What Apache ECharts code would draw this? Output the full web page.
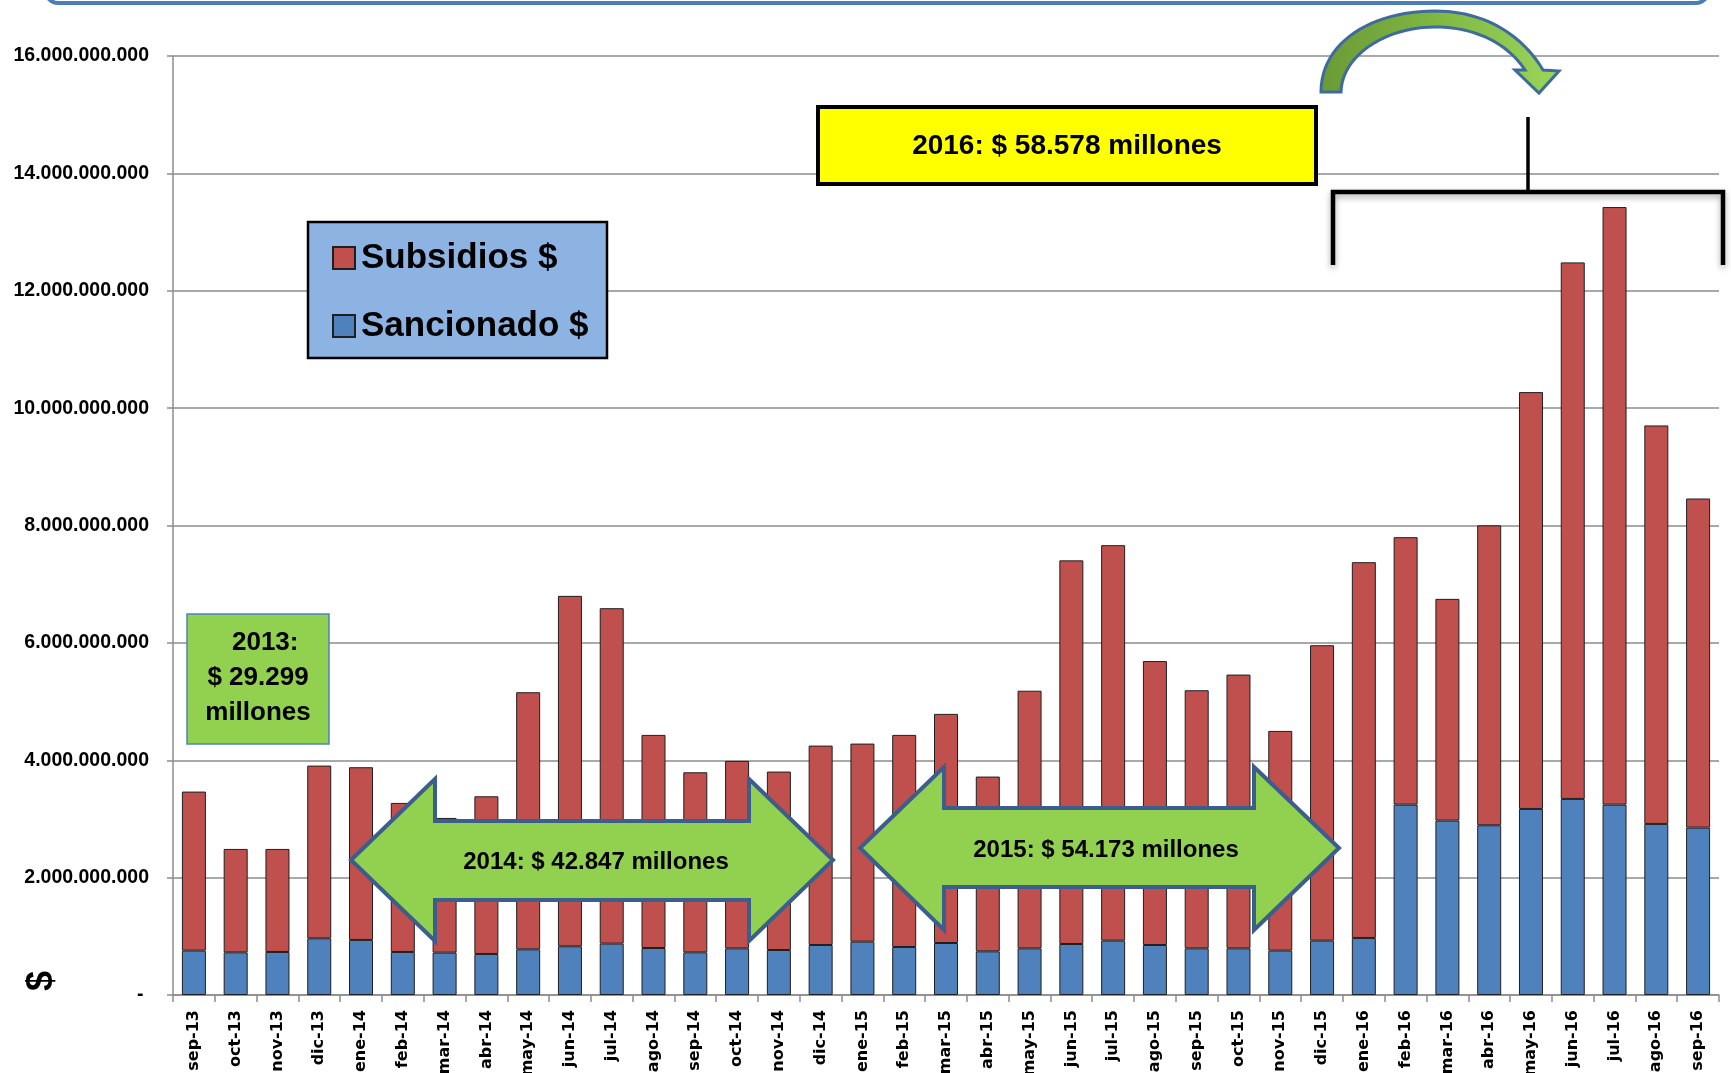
<!DOCTYPE html>
<html>
<head>
<meta charset="utf-8">
<script src="https://cdn.jsdelivr.net/npm/echarts@6/dist/echarts.min.js"></script>
<style>
html,body{margin:0;padding:0;background:#fff;}
#chart{width:1731px;height:1073px;}
</style>
</head>
<body>
<div id="chart"></div>
<script>
const categories = ['sep-13','oct-13','nov-13','dic-13','ene-14','feb-14','mar-14','abr-14','may-14','jun-14','jul-14','ago-14','sep-14','oct-14','nov-14','dic-14','ene-15','feb-15','mar-15','abr-15','may-15','jun-15','jul-15','ago-15','sep-15','oct-15','nov-15','dic-15','ene-16','feb-16','mar-16','abr-16','may-16','jun-16','jul-16','ago-16','sep-16'];

const sancionado = [756000000,727000000,733000000,966000000,938000000,733000000,722000000,699000000,778000000,830000000,875000000,801000000,727000000,795000000,767000000,852000000,909000000,818000000,886000000,744000000,795000000,869000000,926000000,852000000,795000000,795000000,756000000,926000000,972000000,3244000000,2972000000,2892000000,3170000000,3341000000,3244000000,2915000000,2852000000];

const subsidios = [2710000000,1762000000,1756000000,2943000000,2943000000,2540000000,2295000000,2687000000,4381000000,5971000000,5716000000,3631000000,3068000000,3194000000,3040000000,3398000000,3375000000,3614000000,3904000000,2978000000,4390000000,6537000000,6739000000,4838000000,4398000000,4665000000,3744000000,5034000000,6403000000,4557000000,3778000000,5111000000,7103000000,9142000000,10182000000,6790000000,5608000000];

const seriesNames = ['Subsidios $','Sancionado $'];
const yAxisName = '$';
const annotation2013 = ['  2013:', '$ 29.299', 'millones'];
const annotation2014 = '2014: $ 42.847 millones';
const annotation2015 = '2015: $ 54.173 millones';
const annotation2016 = '2016: $ 58.578 millones';

// sample a cubic bezier (decorative curved arrow outline)
function cubic(p0, p1, p2, p3, n) {
  const pts = [];
  for (let i = 0; i <= n; i++) {
    const t = i / n, u = 1 - t;
    pts.push([
      u*u*u*p0[0] + 3*u*u*t*p1[0] + 3*u*t*t*p2[0] + t*t*t*p3[0],
      u*u*u*p0[1] + 3*u*u*t*p1[1] + 3*u*t*t*p2[1] + t*t*t*p3[1]
    ]);
  }
  return pts;
}
const curvedArrow = [].concat(
  cubic([1321,92],[1321,42],[1372,11],[1435,11], 24),
  cubic([1435,11],[1488,11],[1524,38],[1543,70], 24),
  [[1559,71],[1539,93],[1515,70],[1525,70]],
  cubic([1525,70],[1508,44],[1476,27],[1435,27], 24),
  cubic([1435,27],[1386,27],[1342,55],[1341,92], 24)
);

const chart = echarts.init(document.getElementById('chart'));
const GREEN = '#92D050';
const ARROW_STROKE = '#3B5E8C';
const font = '"Liberation Sans", Arial, sans-serif';

const option = {
  animation: false,
  backgroundColor: '#ffffff',
  grid: {left: 173, right: 12, top: 56, bottom: 78, containLabel: false, outerBoundsMode: 'none'},
  legend: {
    data: seriesNames,
    orient: 'vertical',
    left: 327,
    top: 233,
    itemWidth: 22,
    itemHeight: 22,
    itemGap: 28,
    icon: 'rect',
    z: 10,
    textStyle: {fontFamily: font, fontWeight: 'bold', fontSize: 35, color: '#000', lineHeight: 40, padding: [0,0,0,1]}
  },
  xAxis: {
    type: 'category',
    data: categories,
    axisLine: {lineStyle: {color: '#8c8c8c', width: 1.5}},
    axisTick: {show: true, length: 7, lineStyle: {color: '#8c8c8c', width: 1.5}},
    axisLabel: {interval: 0, rotate: 90, margin: 15, color: '#000', fontFamily: '"DejaVu Sans", Verdana, sans-serif', fontWeight: 'bold', fontSize: 16}
  },
  yAxis: {
    type: 'value',
    min: 0,
    max: 16000000000,
    interval: 2000000000,
    axisLine: {show: true, lineStyle: {color: '#8c8c8c', width: 1.5}},
    axisTick: {show: true, length: 6, lineStyle: {color: '#8c8c8c', width: 1.5}},
    splitLine: {lineStyle: {color: '#8c8c8c', width: 1.5}},
    axisLabel: {
      margin: 24,
      color: '#000',
      fontFamily: font,
      fontWeight: 'bold',
      fontSize: 19.5,
      formatter: function (v) {
        if (v === 0) return '- ';
        return String(v).replace(/\B(?=(\d{3})+(?!\d))/g, '.');
      }
    }
  },
  series: [
    {
      name: seriesNames[1], type: 'bar', stack: 'total', data: sancionado, barWidth: 24,
      itemStyle: {color: '#4F81BD', borderColor: '#1f1f1f', borderWidth: 1}
    },
    {
      name: seriesNames[0], type: 'bar', stack: 'total', data: subsidios, barWidth: 24,
      itemStyle: {color: '#C0504D', borderColor: '#1f1f1f', borderWidth: 1}
    }
  ],
  graphic: {
    elements: [
      {type: 'rect', z: 5, shape: {x: 46, y: -40, width: 1662, height: 43, r: 12},
       style: {fill: 'none', stroke: '#4A7EBB', lineWidth: 4}},
      {type: 'rect', z: 5, shape: {x: 308, y: 222, width: 299, height: 136},
       style: {fill: '#8DB3E2', stroke: '#000', lineWidth: 2.5}},
      {type: 'rect', z: 5, shape: {x: 187, y: 614, width: 142, height: 130},
       style: {fill: GREEN, stroke: '#4F81BD', lineWidth: 1.5}},
      {type: 'text', z: 6, x: 258, y: 678,
       style: {text: annotation2013.join('\n'), font: 'bold 26px ' + font, fill: '#000', align: 'center', verticalAlign: 'middle', lineHeight: 35}},
      {type: 'polygon', z: 5,
       shape: {points: [[351,860],[435,779],[435,821],[749,821],[749,779],[833,860],[749,941],[749,900],[435,900],[435,941]]},
       style: {fill: GREEN, stroke: ARROW_STROKE, lineWidth: 4, lineJoin: 'miter'}},
      {type: 'text', z: 6, x: 596, y: 862,
       style: {text: annotation2014, font: 'bold 24px ' + font, fill: '#000', align: 'center', verticalAlign: 'middle'}},
      {type: 'polygon', z: 5,
       shape: {points: [[860,848],[944,767],[944,808],[1254,808],[1254,767],[1339,848],[1254,930],[1254,887],[944,887],[944,930]]},
       style: {fill: GREEN, stroke: ARROW_STROKE, lineWidth: 4, lineJoin: 'miter'}},
      {type: 'text', z: 6, x: 1106, y: 850,
       style: {text: annotation2015, font: 'bold 24px ' + font, fill: '#000', align: 'center', verticalAlign: 'middle'}},
      {type: 'rect', z: 5, shape: {x: 818, y: 107, width: 498, height: 77},
       style: {fill: '#FFFF00', stroke: '#000', lineWidth: 4}},
      {type: 'text', z: 6, x: 1067, y: 146,
       style: {text: annotation2016, font: 'bold 28px ' + font, fill: '#000', align: 'center', verticalAlign: 'middle'}},
      {type: 'polyline', z: 5, shape: {points: [[1333,265],[1333,192],[1723,192],[1723,265]]},
       style: {fill: 'none', stroke: '#000', lineWidth: 4.5, shadowBlur: 6, shadowColor: 'rgba(0,0,0,0.35)', shadowOffsetY: 3}},
      {type: 'line', z: 5, shape: {x1: 1528, y1: 117, x2: 1528, y2: 192},
       style: {stroke: '#000', lineWidth: 3.5}},
      {type: 'polygon', z: 5,
       shape: {points: curvedArrow},
       style: {
         fill: {type: 'linear', x: 0, y: 0, x2: 1, y2: 0, colorStops: [{offset: 0, color: '#6A9A35'}, {offset: 0.5, color: '#80B843'}, {offset: 1, color: '#9BD65A'}]},
         stroke: '#3F6A9E', lineWidth: 3
       }},
      {type: 'text', z: 6, x: 42, y: 981, rotation: Math.PI / 2,
       style: {text: yAxisName, font: 'bold 36px ' + font, fill: '#000', align: 'center', verticalAlign: 'middle'}}
    ]
  }
};
chart.setOption(option);
</script>
</body>
</html>
